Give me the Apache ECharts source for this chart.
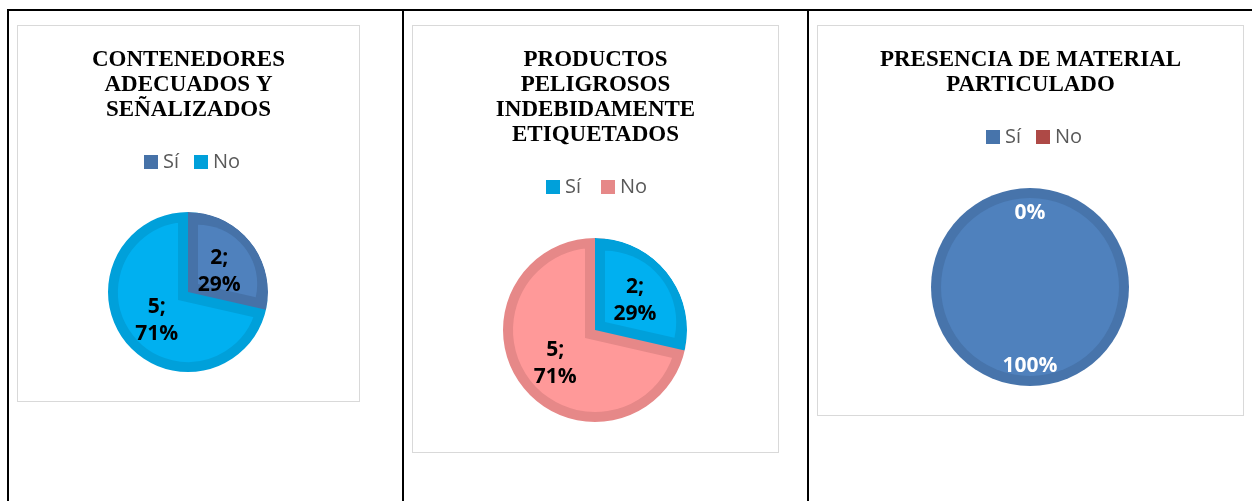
<!DOCTYPE html>
<html><head><meta charset="utf-8">
<script src="https://cdn.jsdelivr.net/npm/echarts@6/dist/echarts.min.js"></script>
<style>
html,body{margin:0;padding:0;background:#fff;width:1252px;height:501px;overflow:hidden;position:relative}
.ln{position:absolute;background:#000}
.frame{position:absolute;box-sizing:border-box;border:1px solid #d9d9d9;background:#fff}
.chart{position:absolute}
</style></head><body>
<div class="ln" style="left:7px;top:9px;width:1245px;height:2px"></div>
<div class="ln" style="left:7px;top:9px;width:2px;height:492px"></div>
<div class="ln" style="left:402px;top:9px;width:2px;height:492px"></div>
<div class="ln" style="left:807px;top:9px;width:2px;height:492px"></div>
<div class="frame" style="left:17px;top:25px;width:343px;height:377px"></div>
<div class="frame" style="left:412px;top:25px;width:367px;height:428px"></div>
<div class="frame" style="left:817px;top:25px;width:427px;height:391px"></div>
<div id="c1" class="chart" style="left:17px;top:25px;width:343px;height:377px"></div>
<div id="c2" class="chart" style="left:412px;top:25px;width:367px;height:428px"></div>
<div id="c3" class="chart" style="left:817px;top:25px;width:427px;height:391px"></div>
<script>
// ---- data ----
const categories = ['Sí', 'No'];
const title1 = 'CONTENEDORES\nADECUADOS Y\nSEÑALIZADOS';
const title2 = 'PRODUCTOS\nPELIGROSOS\nINDEBIDAMENTE\nETIQUETADOS';
const title3 = 'PRESENCIA DE MATERIAL\nPARTICULADO';
const values1 = [2, 5];
const values2 = [2, 5];
const values3 = [7, 0];

// ---- styles ----
const light1 = ['#4f81bd', '#00b0f0'], dark1 = ['#4672a8', '#00a0da'];
const light2 = ['#00b0f0', '#ff9999'], dark2 = ['#00a0da', '#e68888'];
const light3 = ['#4f81bd', '#c0504d'], dark3 = ['#4774ab', '#ae4946'];
const TRANSP = 'rgba(0,0,0,0)';

function pieOption(cfg) {
  const vals = cfg.values;
  const total = vals.reduce((a, b) => a + b, 0);
  const [cx, cy] = cfg.center;
  const r = cfg.radius, band = 10;
  const base = {
    type: 'pie', silent: true, startAngle: 90, clockwise: true,
    center: [cx, cy], radius: [0, r], animation: false,
    avoidLabelOverlap: false, minAngle: 0, stillShowZeroSum: true,
    label: { show: false }, labelLine: { show: false },
    emphasis: { disabled: true }
  };
  const mk = fn => vals.map((v, i) => ({ name: categories[i], value: v, itemStyle: fn(i) }));
  const hidden = { color: TRANSP, borderWidth: 0 };
  const series = [];
  series.push(Object.assign({}, base, {
    data: mk(i => ({ color: cfg.dark[i], borderWidth: 0 }))
  }));
  const nonZero = vals.filter(v => v > 0).length;
  if (nonZero >= 2) {
    let s = 0; vals.forEach((v, i) => { if (v < vals[s]) s = i; });
    series.push(Object.assign({}, base, {
      data: mk(i => i === s ? hidden : { color: cfg.light[i], borderColor: cfg.dark[i], borderWidth: band * 2, borderJoin: 'miter' })
    }));
    series.push(Object.assign({}, base, {
      data: mk(i => i === s ? { color: cfg.dark[i], borderWidth: 0 } : hidden)
    }));
    const before = vals.slice(0, s).reduce((a, b) => a + b, 0);
    const alpha = Math.PI * vals[s] / total;
    const theta = 2 * Math.PI * before / total + alpha;
    const d = band / Math.sin(alpha);
    series.push(Object.assign({}, base, {
      center: [cx + d * Math.sin(theta), cy - d * Math.cos(theta)],
      radius: [0, r - band - d + 2],
      data: mk(i => i === s ? { color: cfg.light[i], borderWidth: 0 } : hidden)
    }));
    series.push(Object.assign({}, base, {
      radius: [r, r + 16],
      data: [{ value: 1, itemStyle: { color: '#ffffff', borderWidth: 0 } }]
    }));
  } else {
    series.push(Object.assign({}, base, {
      radius: [0, r - band],
      data: mk(i => ({ color: cfg.light[i], borderWidth: 0 }))
    }));
  }
  // label carrier (invisible), slightly lowered to match text placement
  series.push(Object.assign({}, base, {
    center: [cx, cy + cfg.labelShift],
    radius: [0, cfg.labelDist * 2],
    data: mk(i => hidden),
    label: {
      show: true, position: 'inside',
      fontFamily: 'Open Sans', fontWeight: 'bold', fontSize: 21, lineHeight: 27,
      color: cfg.labelColor,
      formatter: cfg.labelFmt
    }
  }));
  return {
    backgroundColor: 'transparent',
    animation: false,
    title: {
      text: cfg.title, left: 'center', top: 23, padding: 0,
      textStyle: { fontFamily: 'Liberation Serif', fontWeight: 'bold', fontSize: 23, lineHeight: 25, color: '#000', align: 'center' }
    },
    legend: {
      data: categories, left: cfg.legendLeft, top: cfg.legendTop, padding: 0,
      itemWidth: 14, itemHeight: 14, itemGap: cfg.legendGap, icon: 'rect',
      selectedMode: false,
      textStyle: { fontFamily: 'Open Sans', fontSize: 20, lineHeight: 20, color: '#595959' }
    },
    series: series
  };
}

const fmtValPct = p => p.value + ';\n' + Math.round(p.percent) + '%';
const fmtPct = p => Math.round(p.percent) + '%';

echarts.init(document.getElementById('c1'), null, { renderer: 'canvas' }).setOption(pieOption({
  title: title1, values: values1, light: light1, dark: dark1,
  center: [171, 267], radius: 80, labelDist: 37, labelShift: 4, labelColor: '#000', labelFmt: fmtValPct,
  legendLeft: 127, legendTop: 127, legendGap: 15
}));
echarts.init(document.getElementById('c2'), null, { renderer: 'canvas' }).setOption(pieOption({
  title: title2, values: values2, light: light2, dark: dark2,
  center: [183, 305], radius: 92, labelDist: 48, labelShift: 2, labelColor: '#000', labelFmt: fmtValPct,
  legendLeft: 134, legendTop: 152, legendGap: 20
}));
echarts.init(document.getElementById('c3'), null, { renderer: 'canvas' }).setOption(pieOption({
  title: title3, values: values3, light: light3, dark: dark3,
  center: [213, 262], radius: 99, labelDist: 73.5, labelShift: 2.5, labelColor: '#fff', labelFmt: fmtPct,
  legendLeft: 169, legendTop: 102, legendGap: 15
}));
</script>
</body></html>
